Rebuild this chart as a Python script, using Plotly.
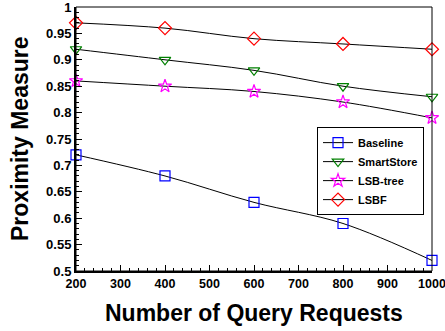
import plotly.graph_objects as go

queries = [200, 400, 600, 800, 1000]
baseline = [0.72, 0.68, 0.63, 0.59, 0.52]
smartstore = [0.92, 0.90, 0.88, 0.85, 0.83]
lsbtree = [0.86, 0.85, 0.84, 0.82, 0.79]
lsbf = [0.97, 0.96, 0.94, 0.93, 0.92]

names = ["Baseline", "SmartStore", "LSB-tree", "LSBF"]
series = [baseline, smartstore, lsbtree, lsbf]
symbols = ["square-open", "triangle-down-open", "star-open", "diamond-open"]
colors = ["#0000ff", "#008000", "#ff00ff", "#ff0000"]

y_ticks = [0.5, 0.55, 0.6, 0.65, 0.7, 0.75, 0.8, 0.85, 0.9, 0.95, 1.0]
y_tick_text = ["0.5", "0.55", "0.6", "0.65", "0.7", "0.75", "0.8", "0.85", "0.9", "0.95", "1"]
x_ticks = [200, 300, 400, 500, 600, 700, 800, 900, 1000]

fig = go.Figure()
for n, s, sym, c in zip(names, series, symbols, colors):
    fig.add_trace(go.Scatter(
        x=queries, y=s, name=n, mode="lines+markers",
        line=dict(color="black", width=1, shape="spline"),
        marker=dict(symbol=sym, size=10, color=c, line=dict(color=c, width=1.2)),
        cliponaxis=False,
    ))

font = "Liberation Sans, Arial, sans-serif"
fig.update_layout(
    width=445, height=331,
    margin=dict(l=76, r=13, t=7, b=60, autoexpand=False),
    paper_bgcolor="white", plot_bgcolor="white",
    font=dict(family=font, color="black"),
    showlegend=True,
    legend=dict(x=0.677, y=0.545, xanchor="left", yanchor="top",
                bordercolor="black", borderwidth=1, bgcolor="white",
                font=dict(family=font, size=11, color="black", weight="bold"),
                tracegroupgap=0, itemwidth=30),
    xaxis=dict(range=[200, 1000], tickvals=x_ticks, ticks="inside", ticklen=6,
               tickwidth=1, tickcolor="black", showgrid=False, zeroline=False,
               showline=True, linecolor="black", linewidth=2, automargin=False,
               ticklabeloverflow="allow",
               tickfont=dict(family=font, size=12.5, weight="bold"),
               minor=dict(dtick=20, ticks="inside", ticklen=3, tickcolor="black", showgrid=False)),
    yaxis=dict(range=[0.5, 1.0], tickvals=y_ticks, ticktext=y_tick_text, ticks="inside",
               ticklen=6, tickwidth=1, tickcolor="black", showgrid=False, zeroline=False,
               showline=True, linecolor="black", linewidth=2, automargin=False,
               ticklabeloverflow="allow",
               tickfont=dict(family=font, size=13, weight="bold"),
               minor=dict(dtick=0.01, ticks="inside", ticklen=3, tickcolor="black", showgrid=False)),
    shapes=[dict(type="rect", xref="paper", yref="paper", x0=0, x1=1, y0=0, y1=1,
                 line=dict(color="black", width=1), layer="above")],
    annotations=[
        dict(text="Number of Query Requests", xref="paper", yref="paper", x=0.5, y=0,
             yshift=-42, xanchor="center", yanchor="middle", showarrow=False,
             font=dict(family=font, size=23, weight="bold", color="black")),
        dict(text="Proximity Measure", xref="paper", yref="paper", x=0, y=0.5,
             xshift=-56, xanchor="center", yanchor="middle", showarrow=False, textangle=-90,
             font=dict(family=font, size=23, weight="bold", color="black")),
    ],
)

fig.write_html("out.html", config={"displayModeBar": False},
               post_script="document.body.style.margin='0';")
